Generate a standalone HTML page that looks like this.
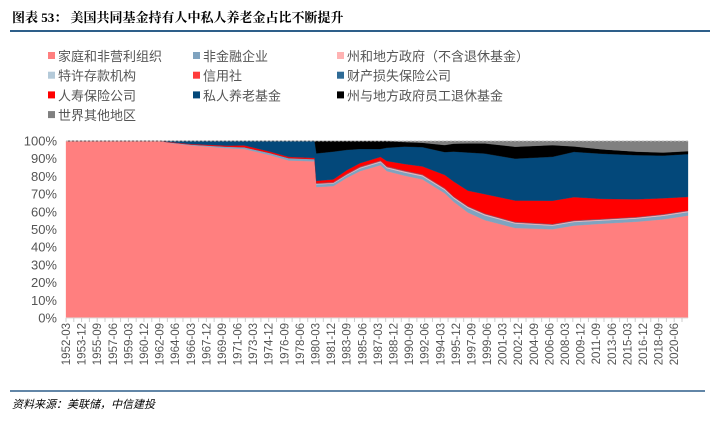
<!DOCTYPE html>
<html><head><meta charset="utf-8"><style>
body{margin:0;background:#fff;width:719px;height:419px;overflow:hidden;font-family:"Liberation Sans","Noto Sans CJK SC",sans-serif}
</style></head><body>
<svg id="c" width="719" height="419" xmlns="http://www.w3.org/2000/svg">
<text x="12" y="22" font-size="13" font-weight="bold" fill="#000" font-family="Liberation Serif,Noto Serif CJK SC,serif">图表 53：  美国共同基金持有人中私人养老金占比不断提升</text>
<line x1="10" y1="31" x2="710" y2="31" stroke="#2E5F8A" stroke-width="2"/>
<g id="legend"></g>
<g id="plot"></g>
<g id="yax"></g>
<g id="xax"></g>
<line x1="10" y1="391" x2="705" y2="391" stroke="#2E5F8A" stroke-width="1.5"/>
<text x="12" y="408" font-size="11" font-style="italic" fill="#000">资料来源：美联储，中信建投</text>
</svg>
<script>
const times=[1952,1962.5,1963.5,1966,1970,1972,1974.9,1977,1979.9,1980.1,1982,1983.5,1985,1987.3,1988,1990,1992,1994.5,1995.5,1997.1,1999,2002.4,2006.6,2009,2012.2,2016,2019,2021.8];
const households=[100,100,99,97.5,96,95.5,92,89,88.5,74,74.5,79,83,86.4,83,81.7,79,71,66,58,53,50.5,49.5,51,53.3,54.5,55.5,57.5];
const nonfinCorp=[0,0,0.3,0.5,0.8,1,1.2,1.3,1.3,1.5,1.5,1.5,1.5,1.6,1.7,1.8,1.8,1.8,2,2.5,2.6,2.5,2,2,1.8,1.8,2,2];
const stateGov=[0,0,0,0,0,0,0,0,0,0,0,0,0.2,0.2,0.2,0.3,0.3,0.3,0.3,0.3,0.3,0.3,0.3,0.3,0.3,0.3,0.3,0.3];
const deposits=[0,0,0,0,0,0,0,0,0,0.3,0.3,0.3,0.3,0.3,0.3,0.3,0.3,0.3,0.3,0.3,0.3,0.2,0.2,0.2,0.2,0.2,0.2,0.2];
const creditUnions=[0,0,0,0,0,0,0,0,0,0.3,0.3,0.3,0.3,0.3,0.3,0.3,0.3,0.3,0.2,0.2,0.2,0.2,0.2,0.2,0.2,0.2,0.2,0.2];
const pcInsurance=[0,0,0,0,0,0,0,0,0,0.2,0.2,0.2,0.2,0.2,0.2,0.2,0.2,0.2,0.2,0.2,0.2,0.2,0.2,0.2,0.2,0.2,0.2,0.2];
const lifeInsurance=[0,0,0.2,0.3,0.6,1,0.8,0.7,0.7,1.2,1.5,2,2,2,3,3.8,4.5,7.5,8.5,8.5,10.5,12,13,12.8,11.3,10,9,7.6];
const privatePension=[0,0,0.5,1.7,2.6,2.5,6,9,9.5,15.5,15.7,11.5,8,4.5,7.5,10,11,13,17,21,22,23.5,24.5,25,25.5,25,24,24];
const stateRetire=[0,0,0,0,0,0,0,0,0,7,6,5,4.5,4.5,3.8,2.6,2.5,4,4.5,5,5.5,6.7,6.5,3,2.5,2,1.7,1.7];
const restOfWorld=[0,0,0,0,0,0,0,0,0,0,0,0,0,0,0,0.6,1,2.3,1.5,1.3,1.3,3.2,2.3,3,4.7,6,6.5,5.7];
const seriesNames=["家庭和非营利组织","非金融企业","州和地方政府（不含退休基金）","特许存款机构","信用社","财产损失保险公司","人寿保险公司","私人养老基金","州与地方政府员工退休基金","世界其他地区"];
const seriesData=[households,nonfinCorp,stateGov,deposits,creditUnions,pcInsurance,lifeInsurance,privatePension,stateRetire,restOfWorld];
const colors=["#FF7F7F","#7FA3BF","#FFB3B3","#B4CAD9","#FF3B3B","#2F6B96","#FF0000","#03487A","#000000","#808080"];
const yTicks=[0,10,20,30,40,50,60,70,80,90,100];
const xStart=1952,xEnd=2021.8;
const NS="http://www.w3.org/2000/svg";
function mk(t,a,p){const e=document.createElementNS(NS,t);for(const k in a)e.setAttribute(k,a[k]);p.appendChild(e);return e;}
const X=t=>66+(t-xStart)/(xEnd-xStart)*(688-66);
const Y=v=>318-v*1.77;
// legend
const lg=document.getElementById('legend');
const lx=[48,193,337];
seriesNames.forEach((n,i)=>{const col=i%3,row=Math.floor(i/3);
 const g=mk('g',{},lg);
 
 
 mk('rect',{x:lx[col],y:52+row*19.7,width:7,height:7,fill:colors[i]},g);
 const t=mk('text',{x:lx[col]+10,y:61+row*19.7,'font-size':13,fill:'#555'},g);t.textContent=n;});
// stacks
const plot=document.getElementById('plot');
let cum=times.map(()=>0);
const tot=times.map((_,j)=>seriesData.reduce((s,a)=>s+a[j],0));
seriesData.forEach((arr,i)=>{
 const lo=cum.slice();cum=cum.map((c,j)=>c+arr[j]/tot[j]*100);
 let pts=times.map((t,j)=>X(t)+','+Y(cum[j]));
 pts=pts.concat(times.map((t,j)=>X(t)+','+Y(lo[j])).reverse());
 const p=mk('polygon',{points:pts.join(' '),fill:colors[i],stroke:colors[i],'stroke-width':0.3},plot);
 
 
});
mk('line',{x1:66,y1:141,x2:688,y2:141,stroke:'#bbb','stroke-dasharray':'2,2'},plot);
// y axis
const ya=document.getElementById('yax');
yTicks.forEach(v=>{const t=mk('text',{x:57,y:Y(v)+4.5,'font-size':13,fill:'#555','text-anchor':'end'},ya);t.textContent=v+'%';
 
 });
// x axis
const xa=document.getElementById('xax');
mk('line',{x1:66,y1:318,x2:688,y2:318,stroke:'#ddd'},xa);
const mon=['03','06','09','12'];
for(let q=0;q<=278;q+=7){const yr=1952+Math.floor(q/4),m=mon[q%4];const t=xStart+q/4;
 const x=X(t);
 const tx=mk('text',{transform:`translate(${x+4},323) rotate(-90)`,'font-size':11.5,fill:'#555','text-anchor':'end'},xa);
 tx.textContent=yr+'-'+m;
 
 
}
for(let q=0;q<=278;q+=3.5){mk('line',{x1:X(xStart+q/4),y1:318,x2:X(xStart+q/4),y2:322,stroke:'#ccc'},xa);}
</script>
</body></html>
